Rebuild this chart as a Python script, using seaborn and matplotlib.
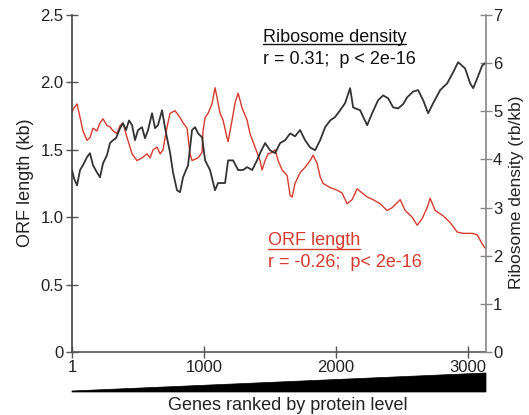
import matplotlib
matplotlib.use("Agg")
import matplotlib.pyplot as plt
import seaborn as sns
import pandas as pd
from matplotlib.patches import Polygon
from matplotlib.lines import Line2D

# ---- data ----
orf_rank = [1, 16, 39, 62, 84, 115, 137, 160, 190, 213, 236, 266, 289, 312, 342, 365, 387, 418,
            456, 493, 531, 569, 592, 615, 645, 668, 690, 721, 743, 781, 819, 842, 872, 895, 910,
            956, 986, 993, 1009, 1031, 1061, 1084, 1099, 1122, 1145, 1175, 1183, 1213, 1236, 1259,
            1289, 1327, 1349, 1387, 1425, 1440, 1463, 1486, 1516, 1539, 1562, 1592, 1630, 1653,
            1668, 1690, 1728, 1766, 1804, 1827, 1857, 1880, 1903, 1956, 2009, 2046, 2084, 2122,
            2160, 2198, 2236, 2281, 2334, 2387, 2425, 2486, 2524, 2577, 2615, 2653, 2690, 2713,
            2751, 2812, 2865, 2918, 2963, 3031, 3069, 3114, 3130]
orf_len = [1.78, 1.81, 1.84, 1.74, 1.64, 1.57, 1.59, 1.66, 1.64, 1.70, 1.73, 1.68, 1.67, 1.64,
           1.62, 1.68, 1.70, 1.59, 1.47, 1.42, 1.44, 1.47, 1.44, 1.50, 1.52, 1.47, 1.50, 1.67,
           1.77, 1.79, 1.74, 1.70, 1.66, 1.47, 1.42, 1.44, 1.48, 1.64, 1.74, 1.77, 1.84, 1.96,
           1.89, 1.77, 1.72, 1.59, 1.56, 1.72, 1.85, 1.92, 1.81, 1.72, 1.62, 1.52, 1.42, 1.35,
           1.42, 1.47, 1.48, 1.50, 1.42, 1.35, 1.31, 1.16, 1.15, 1.25, 1.33, 1.37, 1.42, 1.46,
           1.40, 1.30, 1.25, 1.22, 1.20, 1.18, 1.10, 1.13, 1.21, 1.18, 1.15, 1.13, 1.10, 1.05,
           1.07, 1.13, 1.05, 1.00, 0.94, 0.99, 1.07, 1.14, 1.05, 1.01, 0.96, 0.89, 0.88, 0.88,
           0.87, 0.79, 0.77]

rd_rank = [1, 16, 39, 62, 84, 115, 137, 160, 190, 213, 236, 266, 289, 312, 334, 365, 387, 410,
           433, 456, 478, 501, 531, 554, 577, 607, 630, 652, 683, 706, 721, 743, 766, 796, 819,
           842, 880, 910, 933, 956, 986, 1009, 1046, 1084, 1107, 1160, 1183, 1221, 1259, 1296,
           1327, 1365, 1402, 1425, 1463, 1501, 1539, 1577, 1615, 1653, 1690, 1728, 1766, 1804,
           1842, 1880, 1918, 1956, 1993, 2031, 2069, 2107, 2130, 2183, 2236, 2274, 2319, 2357,
           2395, 2433, 2471, 2509, 2539, 2584, 2622, 2660, 2698, 2736, 2789, 2842, 2887, 2925,
           2978, 3016, 3039, 3069, 3107, 3130]
rd_val = [3.78, 3.61, 3.46, 3.78, 3.88, 4.05, 4.13, 3.88, 3.73, 3.63, 3.92, 4.09, 4.34, 4.40,
          4.44, 4.65, 4.75, 4.61, 4.81, 4.71, 4.40, 4.61, 4.67, 4.44, 4.61, 4.96, 4.65, 4.71,
          5.02, 4.65, 4.44, 4.15, 3.73, 3.36, 3.32, 3.63, 3.88, 4.61, 4.67, 4.54, 4.46, 3.98,
          3.78, 3.36, 3.51, 3.51, 3.98, 3.98, 3.78, 3.78, 3.84, 3.78, 3.98, 4.13, 4.34, 4.19,
          4.13, 4.34, 4.40, 4.54, 4.48, 4.61, 4.40, 4.25, 4.19, 4.40, 4.67, 4.81, 4.88, 5.02,
          5.17, 5.48, 5.08, 5.02, 4.71, 4.96, 5.23, 5.33, 5.27, 5.08, 5.06, 5.15, 5.29, 5.41,
          5.44, 5.23, 4.96, 5.17, 5.44, 5.58, 5.81, 6.02, 5.89, 5.58, 5.48, 5.68, 5.95, 6.00]

x_ticks = [1, 1000, 2000, 3000]
left_ticks = [0, 0.5, 1.0, 1.5, 2.0, 2.5]
left_labels = ["0", "0.5", "1.0", "1.5", "2.0", "2.5"]
right_ticks = [0, 1, 2, 3, 4, 5, 6, 7]

RED = "#d63a2e"
DARK = "#333333"

sns.set_style("ticks")
plt.rcParams["font.family"] = ["Liberation Sans", "DejaVu Sans"]

W, H = 529, 415
fig = plt.figure(figsize=(W / 100, H / 100), dpi=100)
ax = fig.add_axes([72 / W, 1 - 352 / H, (486 - 72) / W, (352 - 15) / H])
ax2 = ax.twinx()

orf_df = pd.DataFrame({"rank": orf_rank, "len": orf_len})
rd_df = pd.DataFrame({"rank": rd_rank, "rd": rd_val})

sns.lineplot(data=orf_df, x="rank", y="len", ax=ax, color=RED, lw=1.0, estimator=None)
sns.lineplot(data=rd_df, x="rank", y="rd", ax=ax2, color=DARK, lw=1.3, estimator=None)

ax.set_xlim(1, 3136)
ax.set_ylim(0, 2.5)
ax2.set_ylim(0, 7)
ax.set_xticks(x_ticks)
ax.set_xticklabels([str(t) for t in x_ticks])
ax.set_yticks(left_ticks)
ax.set_yticklabels(left_labels)
ax2.set_yticks(right_ticks)

for a in (ax, ax2):
    a.spines["top"].set_visible(False)
ax.spines["left"].set_color("#444444")
ax.spines["bottom"].set_color("#555555")
ax.spines["right"].set_visible(False)
ax2.spines["left"].set_visible(False)
ax2.spines["bottom"].set_visible(False)
ax2.spines["right"].set_color("#888888")
for s in ("left", "bottom"):
    ax.spines[s].set_linewidth(1.2)
ax2.spines["right"].set_linewidth(1.2)

ax.tick_params(axis="both", direction="inout", length=8, width=1, color="#555555",
               labelsize=12, labelcolor="#222222", pad=2)
ax2.tick_params(axis="y", direction="inout", length=8, width=1, color="#888888",
                labelsize=12, labelcolor="#222222", pad=1)

ax.set_xlabel("")
ax.set_ylabel("")
ax2.set_ylabel("")
fig.text(26 / W, 1 - 183 / H, "ORF length (kb)", rotation=90, ha="center", va="center",
         fontsize=13, color="#222222")
fig.text(517 / W, 1 - 192 / H, "Ribosome density (rb/kb)", rotation=90, ha="center",
         va="center", fontsize=12.5, color="#222222")
fig.text(288 / W, 1 - 405 / H, "Genes ranked by protein level", ha="center", va="center",
         fontsize=13, color="#222222")

# wedge under the x axis
wedge = Polygon([(72 / W, 1 - 391 / H), (486 / W, 1 - 373 / H), (486 / W, 1 - 392 / H),
                 (72 / W, 1 - 392 / H)], closed=True, transform=fig.transFigure,
                facecolor="black", edgecolor="black", lw=0.5)
fig.patches.append(wedge)

# annotations
t1 = fig.text(263 / W, 1 - 42 / H, "Ribosome density", ha="left", va="baseline",
              fontsize=13, color="#111111")
fig.text(263 / W, 1 - 64 / H, "r = 0.31;  p < 2e-16", ha="left", va="baseline",
         fontsize=13, color="#111111")
t2 = fig.text(268 / W, 1 - 245 / H, "ORF length", ha="left", va="baseline",
              fontsize=13, color=RED)
fig.text(268 / W, 1 - 267 / H, "r = -0.26;  p< 2e-16", ha="left", va="baseline",
         fontsize=13, color=RED)

fig.canvas.draw()
r = fig.canvas.get_renderer()
for t, ypx, c in ((t1, 44.5, "#111111"), (t2, 249.5, RED)):
    bb = t.get_window_extent(renderer=r)
    x0, x1 = bb.x0 / (W), bb.x1 / (W)
    fig.add_artist(Line2D([x0, x1], [1 - ypx / H, 1 - ypx / H], transform=fig.transFigure,
                          color=c, lw=1.0))

fig.savefig("out.png", dpi=100)
